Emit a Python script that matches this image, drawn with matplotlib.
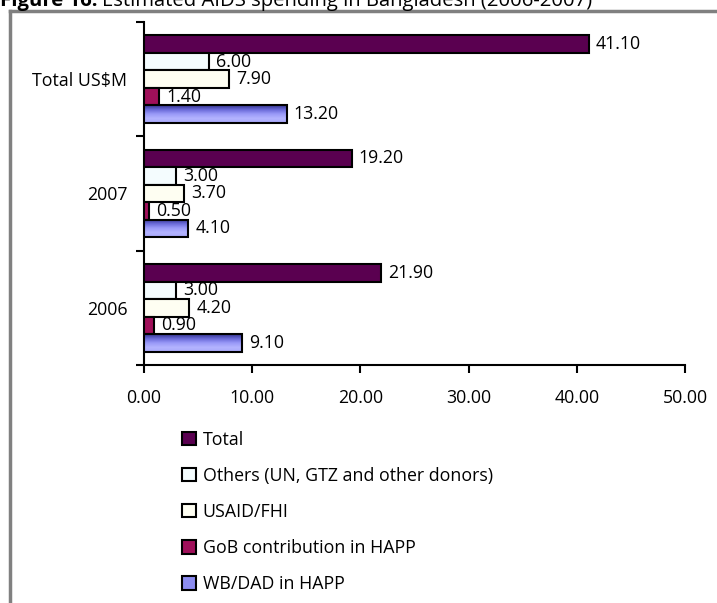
import numpy as np
import matplotlib
matplotlib.use("Agg")
import matplotlib.pyplot as plt
from matplotlib.colors import LinearSegmentedColormap
from matplotlib.lines import Line2D

plt.rcParams['font.family'] = ['Open Sans', 'DejaVu Sans']

# Datos de gasto (millones de US$)
categorias = ['2006', '2007', 'Total US$M']
series = ['Total', 'Others (UN, GTZ and other donors)', 'USAID/FHI',
          'GoB contribution in HAPP', 'WB/DAD in HAPP']
total = [21.90, 19.20, 41.10]
otros = [3.00, 3.00, 6.00]
usaid = [4.20, 3.70, 7.90]
gob = [0.90, 0.50, 1.40]
wb_dad = [9.10, 4.10, 13.20]
xticks = [0, 10, 20, 30, 40, 50]

valores = [total, otros, usaid, gob, wb_dad]
colores = ['#5a0050', '#f4fcfe', '#fefef2', '#a0105a', '#8c8cf0']
fs = 12.8

fig = plt.figure(figsize=(7.17, 6.03), dpi=100)
ax = fig.add_axes([0.2008, 0.3947, 0.7545, 0.569])

y = np.arange(len(categorias))
h = 0.153
degradado = LinearSegmentedColormap.from_list(
    'wb', ['#35358f', '#6a6ad8', '#9a9af8', '#b4b4ff', '#a8a8fa'])

barras = []
for i, (serie, vals, col) in enumerate(zip(series, valores, colores)):
    pos = y + (2 - i) * h
    b = ax.barh(pos, vals, height=h, color=col, edgecolor='black',
                linewidth=1.5, label=serie, zorder=3)
    barras.append(b)
    for p, v in zip(pos, vals):
        ax.annotate('%.2f' % v, xy=(v, p), xytext=(5, 0),
                    textcoords='offset points', va='center', ha='left',
                    fontsize=fs, zorder=5)

# Degradado en las barras de WB/DAD
for rect in barras[4]:
    x0, y0 = rect.get_x(), rect.get_y()
    w, hh = rect.get_width(), rect.get_height()
    grad = np.linspace(0, 1, 50).reshape(-1, 1)
    ax.imshow(grad, cmap=degradado, aspect='auto', origin='upper',
              extent=(x0, x0 + w, y0, y0 + hh), zorder=3.5)
    rect.set_facecolor('none')
    rect.set_zorder(4)

ax.set_xlim(0, 50)
ax.set_ylim(-0.5, 2.5)
ax.set_xticks(xticks)
ax.set_xticklabels(['%.2f' % t for t in xticks], fontsize=fs)
ax.set_yticks([-0.5, 0.5, 1.5, 2.5])
ax.set_yticklabels([])
ax.set_yticks(y, minor=True)
ax.set_yticklabels(categorias, minor=True, fontsize=fs)
ax.tick_params(axis='y', which='minor', length=0, pad=12)
ax.tick_params(axis='y', which='major', length=6, width=1.5, direction='out')
ax.tick_params(axis='x', length=6, width=1.5, direction='out', pad=11)
for s in ['top', 'right']:
    ax.spines[s].set_visible(False)
for s in ['left', 'bottom']:
    ax.spines[s].set_linewidth(1.5)

# Leyenda debajo del gráfico
handles = []
for serie, col in zip(series, colores):
    handles.append(plt.Rectangle((0, 0), 1, 1, facecolor=col,
                                 edgecolor='black', linewidth=1.5))
fig.legend(handles, series, loc='upper left',
           bbox_to_anchor=(0.254, 0.286), frameon=False, fontsize=fs,
           handlelength=0.8, handleheight=0.8, handletextpad=0.35,
           labelspacing=1.02, borderaxespad=0, borderpad=0)

# Marco gris y título
fig.add_artist(Line2D([10 / 717, 10 / 717], [0, 1 - 11 / 603],
                      color='#808080', linewidth=2.5, transform=fig.transFigure))
fig.add_artist(Line2D([10 / 717, 1], [1 - 11 / 603, 1 - 11 / 603],
                      color='#808080', linewidth=2.5, transform=fig.transFigure))
t1 = fig.text(0.0, 1 - 6 / 603, 'Figure 16:', fontsize=14.6,
              fontweight='bold', va='baseline', ha='left')
fig.canvas.draw()
bb = t1.get_window_extent()
fig.text(bb.x1 / fig.bbox.width + 0.006, 1 - 6 / 603,
         'Estimated AIDS spending in Bangladesh (2006-2007)',
         fontsize=14.6, va='baseline', ha='left')

plt.savefig("out.png", dpi=100)
